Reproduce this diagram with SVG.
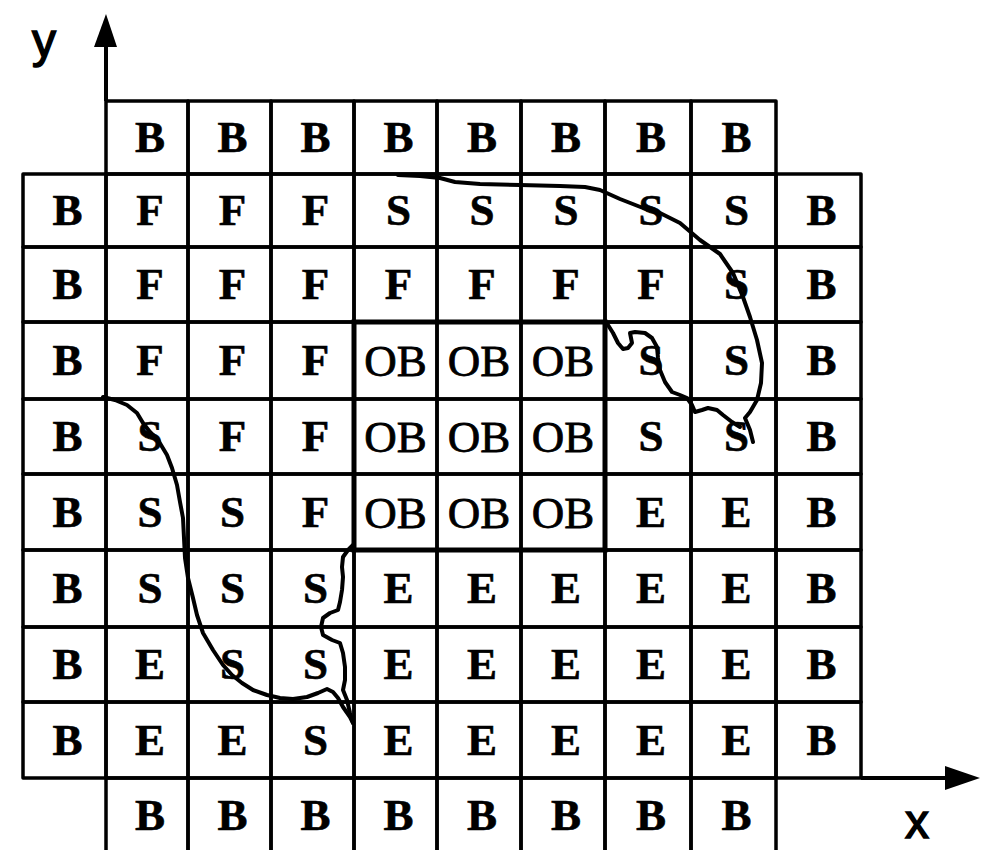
<svg xmlns="http://www.w3.org/2000/svg" width="992" height="850" viewBox="0 0 992 850">
<style>
.cell rect{fill:none;stroke:#000;stroke-width:3.5;stroke-linejoin:round}
.cell text{font-family:"Liberation Serif",serif;font-weight:bold;font-size:45px;text-anchor:middle;fill:#000;stroke:#000;stroke-width:0.6}
.cell text.ob{font-weight:normal;font-size:45px;stroke-width:0.8}
.curve{fill:none;stroke:#000;stroke-width:4;stroke-linejoin:round;stroke-linecap:round}
.axis{fill:none;stroke:#000;stroke-width:4}
.lbl{font-family:"Liberation Sans",Arial,sans-serif;font-size:48px;fill:#000;stroke:#000;stroke-width:1.5}
</style>
<rect width="992" height="850" fill="#fff"/>
<g id="axes">
<line class="axis" x1="106" y1="101" x2="106" y2="40"/>
<polygon points="106,14 94,47 117,47" fill="#000"/>
<line class="axis" x1="861" y1="778" x2="950" y2="778"/>
<polygon points="980,778 945,766 945,790" fill="#000"/>
<text class="lbl" x="32" y="57">y</text>
<text class="lbl" x="905" y="838">x</text>
</g>
<g id="grid">
<g id="r0c1" class="cell"><rect x="106" y="101" width="82" height="73"/><text x="150" y="152">B</text></g>
<g id="r0c2" class="cell"><rect x="188" y="101" width="83" height="73"/><text x="232.5" y="152">B</text></g>
<g id="r0c3" class="cell"><rect x="271" y="101" width="83" height="73"/><text x="315.5" y="152">B</text></g>
<g id="r0c4" class="cell"><rect x="354" y="101" width="83" height="73"/><text x="398.5" y="152">B</text></g>
<g id="r0c5" class="cell"><rect x="437" y="101" width="84" height="73"/><text x="482" y="152">B</text></g>
<g id="r0c6" class="cell"><rect x="521" y="101" width="84" height="73"/><text x="566" y="152">B</text></g>
<g id="r0c7" class="cell"><rect x="605" y="101" width="86" height="73"/><text x="651" y="152">B</text></g>
<g id="r0c8" class="cell"><rect x="691" y="101" width="85" height="73"/><text x="736.5" y="152">B</text></g>

<g id="r1c0" class="cell"><rect x="23" y="174" width="83" height="73"/><text x="67.5" y="225">B</text></g>
<g id="r1c1" class="cell"><rect x="106" y="174" width="82" height="73"/><text x="150" y="225">F</text></g>
<g id="r1c2" class="cell"><rect x="188" y="174" width="83" height="73"/><text x="232.5" y="225">F</text></g>
<g id="r1c3" class="cell"><rect x="271" y="174" width="83" height="73"/><text x="315.5" y="225">F</text></g>
<g id="r1c4" class="cell"><rect x="354" y="174" width="83" height="73"/><text x="398.5" y="225">S</text></g>
<g id="r1c5" class="cell"><rect x="437" y="174" width="84" height="73"/><text x="482" y="225">S</text></g>
<g id="r1c6" class="cell"><rect x="521" y="174" width="84" height="73"/><text x="566" y="225">S</text></g>
<g id="r1c7" class="cell"><rect x="605" y="174" width="86" height="73"/><text x="651" y="225">S</text></g>
<g id="r1c8" class="cell"><rect x="691" y="174" width="85" height="73"/><text x="736.5" y="225">S</text></g>
<g id="r1c9" class="cell"><rect x="776" y="174" width="85" height="73"/><text x="821.5" y="225">B</text></g>

<g id="r2c0" class="cell"><rect x="23" y="247" width="83" height="75"/><text x="67.5" y="299">B</text></g>
<g id="r2c1" class="cell"><rect x="106" y="247" width="82" height="75"/><text x="150" y="299">F</text></g>
<g id="r2c2" class="cell"><rect x="188" y="247" width="83" height="75"/><text x="232.5" y="299">F</text></g>
<g id="r2c3" class="cell"><rect x="271" y="247" width="83" height="75"/><text x="315.5" y="299">F</text></g>
<g id="r2c4" class="cell"><rect x="354" y="247" width="83" height="75"/><text x="398.5" y="299">F</text></g>
<g id="r2c5" class="cell"><rect x="437" y="247" width="84" height="75"/><text x="482" y="299">F</text></g>
<g id="r2c6" class="cell"><rect x="521" y="247" width="84" height="75"/><text x="566" y="299">F</text></g>
<g id="r2c7" class="cell"><rect x="605" y="247" width="86" height="75"/><text x="651" y="299">F</text></g>
<g id="r2c8" class="cell"><rect x="691" y="247" width="85" height="75"/><text x="736.5" y="299">S</text></g>
<g id="r2c9" class="cell"><rect x="776" y="247" width="85" height="75"/><text x="821.5" y="299">B</text></g>

<g id="r3c0" class="cell"><rect x="23" y="322" width="83" height="77"/><text x="67.5" y="375">B</text></g>
<g id="r3c1" class="cell"><rect x="106" y="322" width="82" height="77"/><text x="150" y="375">F</text></g>
<g id="r3c2" class="cell"><rect x="188" y="322" width="83" height="77"/><text x="232.5" y="375">F</text></g>
<g id="r3c3" class="cell"><rect x="271" y="322" width="83" height="77"/><text x="315.5" y="375">F</text></g>
<g id="r3c4" class="cell"><rect x="354" y="322" width="83" height="77"/><text class="ob" x="395.5" y="376">OB</text></g>
<g id="r3c5" class="cell"><rect x="437" y="322" width="84" height="77"/><text class="ob" x="479" y="376">OB</text></g>
<g id="r3c6" class="cell"><rect x="521" y="322" width="84" height="77"/><text class="ob" x="563" y="376">OB</text></g>
<g id="r3c7" class="cell"><rect x="605" y="322" width="86" height="77"/><text x="651" y="375">S</text></g>
<g id="r3c8" class="cell"><rect x="691" y="322" width="85" height="77"/><text x="736.5" y="375">S</text></g>
<g id="r3c9" class="cell"><rect x="776" y="322" width="85" height="77"/><text x="821.5" y="375">B</text></g>

<g id="r4c0" class="cell"><rect x="23" y="399" width="83" height="75"/><text x="67.5" y="451">B</text></g>
<g id="r4c1" class="cell"><rect x="106" y="399" width="82" height="75"/><text x="150" y="451">S</text></g>
<g id="r4c2" class="cell"><rect x="188" y="399" width="83" height="75"/><text x="232.5" y="451">F</text></g>
<g id="r4c3" class="cell"><rect x="271" y="399" width="83" height="75"/><text x="315.5" y="451">F</text></g>
<g id="r4c4" class="cell"><rect x="354" y="399" width="83" height="75"/><text class="ob" x="395.5" y="452">OB</text></g>
<g id="r4c5" class="cell"><rect x="437" y="399" width="84" height="75"/><text class="ob" x="479" y="452">OB</text></g>
<g id="r4c6" class="cell"><rect x="521" y="399" width="84" height="75"/><text class="ob" x="563" y="452">OB</text></g>
<g id="r4c7" class="cell"><rect x="605" y="399" width="86" height="75"/><text x="651" y="451">S</text></g>
<g id="r4c8" class="cell"><rect x="691" y="399" width="85" height="75"/><text x="736.5" y="451">S</text></g>
<g id="r4c9" class="cell"><rect x="776" y="399" width="85" height="75"/><text x="821.5" y="451">B</text></g>

<g id="r5c0" class="cell"><rect x="23" y="474" width="83" height="76"/><text x="67.5" y="526.5">B</text></g>
<g id="r5c1" class="cell"><rect x="106" y="474" width="82" height="76"/><text x="150" y="526.5">S</text></g>
<g id="r5c2" class="cell"><rect x="188" y="474" width="83" height="76"/><text x="232.5" y="526.5">S</text></g>
<g id="r5c3" class="cell"><rect x="271" y="474" width="83" height="76"/><text x="315.5" y="526.5">F</text></g>
<g id="r5c4" class="cell"><rect x="354" y="474" width="83" height="76"/><text class="ob" x="395.5" y="527.5">OB</text></g>
<g id="r5c5" class="cell"><rect x="437" y="474" width="84" height="76"/><text class="ob" x="479" y="527.5">OB</text></g>
<g id="r5c6" class="cell"><rect x="521" y="474" width="84" height="76"/><text class="ob" x="563" y="527.5">OB</text></g>
<g id="r5c7" class="cell"><rect x="605" y="474" width="86" height="76"/><text x="651" y="526.5">E</text></g>
<g id="r5c8" class="cell"><rect x="691" y="474" width="85" height="76"/><text x="736.5" y="526.5">E</text></g>
<g id="r5c9" class="cell"><rect x="776" y="474" width="85" height="76"/><text x="821.5" y="526.5">B</text></g>

<g id="r6c0" class="cell"><rect x="23" y="550" width="83" height="77"/><text x="67.5" y="603">B</text></g>
<g id="r6c1" class="cell"><rect x="106" y="550" width="82" height="77"/><text x="150" y="603">S</text></g>
<g id="r6c2" class="cell"><rect x="188" y="550" width="83" height="77"/><text x="232.5" y="603">S</text></g>
<g id="r6c3" class="cell"><rect x="271" y="550" width="83" height="77"/><text x="315.5" y="603">S</text></g>
<g id="r6c4" class="cell"><rect x="354" y="550" width="83" height="77"/><text x="398.5" y="603">E</text></g>
<g id="r6c5" class="cell"><rect x="437" y="550" width="84" height="77"/><text x="482" y="603">E</text></g>
<g id="r6c6" class="cell"><rect x="521" y="550" width="84" height="77"/><text x="566" y="603">E</text></g>
<g id="r6c7" class="cell"><rect x="605" y="550" width="86" height="77"/><text x="651" y="603">E</text></g>
<g id="r6c8" class="cell"><rect x="691" y="550" width="85" height="77"/><text x="736.5" y="603">E</text></g>
<g id="r6c9" class="cell"><rect x="776" y="550" width="85" height="77"/><text x="821.5" y="603">B</text></g>

<g id="r7c0" class="cell"><rect x="23" y="627" width="83" height="75"/><text x="67.5" y="679">B</text></g>
<g id="r7c1" class="cell"><rect x="106" y="627" width="82" height="75"/><text x="150" y="679">E</text></g>
<g id="r7c2" class="cell"><rect x="188" y="627" width="83" height="75"/><text x="232.5" y="679">S</text></g>
<g id="r7c3" class="cell"><rect x="271" y="627" width="83" height="75"/><text x="315.5" y="679">S</text></g>
<g id="r7c4" class="cell"><rect x="354" y="627" width="83" height="75"/><text x="398.5" y="679">E</text></g>
<g id="r7c5" class="cell"><rect x="437" y="627" width="84" height="75"/><text x="482" y="679">E</text></g>
<g id="r7c6" class="cell"><rect x="521" y="627" width="84" height="75"/><text x="566" y="679">E</text></g>
<g id="r7c7" class="cell"><rect x="605" y="627" width="86" height="75"/><text x="651" y="679">E</text></g>
<g id="r7c8" class="cell"><rect x="691" y="627" width="85" height="75"/><text x="736.5" y="679">E</text></g>
<g id="r7c9" class="cell"><rect x="776" y="627" width="85" height="75"/><text x="821.5" y="679">B</text></g>

<g id="r8c0" class="cell"><rect x="23" y="702" width="83" height="76"/><text x="67.5" y="754.5">B</text></g>
<g id="r8c1" class="cell"><rect x="106" y="702" width="82" height="76"/><text x="150" y="754.5">E</text></g>
<g id="r8c2" class="cell"><rect x="188" y="702" width="83" height="76"/><text x="232.5" y="754.5">E</text></g>
<g id="r8c3" class="cell"><rect x="271" y="702" width="83" height="76"/><text x="315.5" y="754.5">S</text></g>
<g id="r8c4" class="cell"><rect x="354" y="702" width="83" height="76"/><text x="398.5" y="754.5">E</text></g>
<g id="r8c5" class="cell"><rect x="437" y="702" width="84" height="76"/><text x="482" y="754.5">E</text></g>
<g id="r8c6" class="cell"><rect x="521" y="702" width="84" height="76"/><text x="566" y="754.5">E</text></g>
<g id="r8c7" class="cell"><rect x="605" y="702" width="86" height="76"/><text x="651" y="754.5">E</text></g>
<g id="r8c8" class="cell"><rect x="691" y="702" width="85" height="76"/><text x="736.5" y="754.5">E</text></g>
<g id="r8c9" class="cell"><rect x="776" y="702" width="85" height="76"/><text x="821.5" y="754.5">B</text></g>

<g id="r9c1" class="cell"><rect x="106" y="778" width="82" height="80"/><text x="150" y="829.5">B</text></g>
<g id="r9c2" class="cell"><rect x="188" y="778" width="83" height="80"/><text x="232.5" y="829.5">B</text></g>
<g id="r9c3" class="cell"><rect x="271" y="778" width="83" height="80"/><text x="315.5" y="829.5">B</text></g>
<g id="r9c4" class="cell"><rect x="354" y="778" width="83" height="80"/><text x="398.5" y="829.5">B</text></g>
<g id="r9c5" class="cell"><rect x="437" y="778" width="84" height="80"/><text x="482" y="829.5">B</text></g>
<g id="r9c6" class="cell"><rect x="521" y="778" width="84" height="80"/><text x="566" y="829.5">B</text></g>
<g id="r9c7" class="cell"><rect x="605" y="778" width="86" height="80"/><text x="651" y="829.5">B</text></g>
<g id="r9c8" class="cell"><rect x="691" y="778" width="85" height="80"/><text x="736.5" y="829.5">B</text></g>
</g>
<g id="ob-block">
<rect x="354" y="322" width="251" height="228" fill="none" stroke="#000" stroke-width="5"/>
</g>
<g id="connectors">
<polyline class="curve" points="398,175 420,176 440,178 455,182 480,184 520,185 560,186 585,187 600,190 620,199 643,208 660,213 680,223 700,240 720,254 733,273 743,297 750,317 757,340 762,363 761,383 757,400 750,412 745,418 750,430 753,442"/>
<polyline class="curve" points="605,322 608,325 613,333 618,343 623,349 628,348 632,343 630,333 635,332 645,333 652,338 657,347 658,358 660,370 665,382 672,392 680,395 687,398 692,405 695,412 702,410 708,408 717,410 723,415 732,422 740,427"/>
<polyline class="curve" points="103,397 115,400 127,405 137,413 143,423 150,432 158,440 167,455 172,468 177,485 180,502 183,518 184,538 185,558 188,578 193,598 197,615 203,633 213,650 223,665 232,675 242,683 253,690 267,695 280,698 293,699 307,697 318,693 327,689 333,692 338,698 343,707 350,717 353,723"/>
<polyline class="curve" points="353,545 348,550 343,557 342,567 343,577 342,590 340,602 338,610 330,613 323,618 321,627 323,635 332,640 340,643 343,653 345,667 345,680 343,690 347,700 350,713 353,723"/>
</g>
</svg>
